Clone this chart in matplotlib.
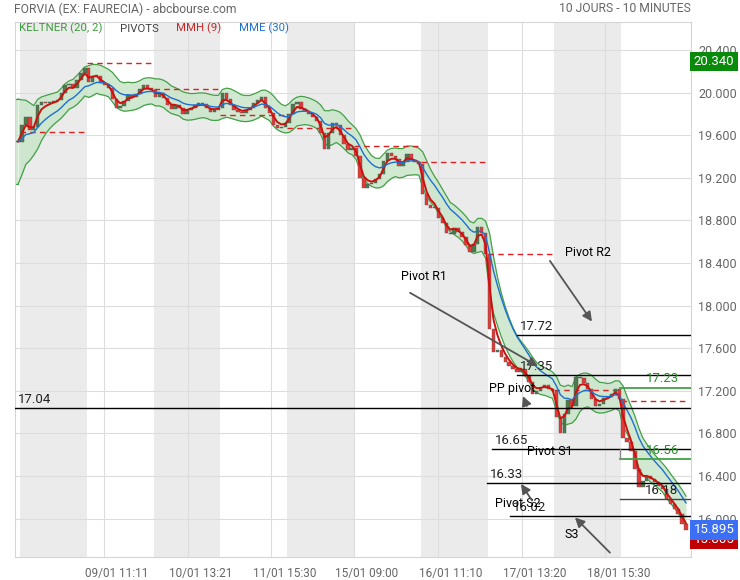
import matplotlib.pyplot as plt
import pandas as pd
from matplotlib.transforms import ScaledTranslation, blended_transform_factory

plt.rcParams["font.family"] = ["Roboto", "DejaVu Sans"]

# trading days shown (10 sessions of 09:00-17:30, 30-minute closes)
day_labels = ["08/01", "09/01", "10/01", "11/01", "12/01",
              "15/01", "16/01", "17/01", "18/01", "19/01"]
closes_0501 = [19.54]
closes_0801 = [19.70, 19.77, 19.65, 19.68, 19.88, 19.91, 19.90, 19.91, 19.92,
               19.93, 20.00, 20.07, 20.08, 20.04, 20.12, 20.18, 20.23]
closes_0901 = [20.10, 20.16, 20.16, 20.09, 20.07, 20.04, 19.94, 19.86, 19.87,
               19.92, 19.98, 19.96, 19.99, 20.03, 20.07, 20.04, 20.02]
closes_1001 = [19.96, 20.00, 19.95, 19.88, 19.85, 19.88, 19.86, 19.80, 19.84,
               19.86, 19.88, 19.90, 19.89, 19.86, 19.82, 19.84, 19.86]
closes_1101 = [20.00, 19.94, 19.88, 19.84, 19.82, 19.81, 19.84, 19.86, 19.90,
               19.93, 19.96, 19.86, 19.81, 19.70, 19.67, 19.68, 19.71]
closes_1201 = [19.80, 19.89, 19.91, 19.85, 19.83, 19.80, 19.77, 19.73, 19.62,
               19.47, 19.62, 19.71, 19.70, 19.60, 19.52, 19.46, 19.48]
closes_1501 = [19.40, 19.20, 19.10, 19.14, 19.15, 19.19, 19.24, 19.36, 19.43,
               19.40, 19.38, 19.31, 19.35, 19.42, 19.37, 19.35, 19.33]
closes_1601 = [19.05, 18.94, 18.92, 18.92, 18.82, 18.78, 18.68, 18.67, 18.73,
               18.69, 18.64, 18.57, 18.50, 18.58, 18.74, 18.68, 18.48]
closes_1701 = [17.78, 17.56, 17.58, 17.52, 17.47, 17.43, 17.40, 17.38, 17.40,
               17.34, 17.28, 17.17, 17.20, 17.23, 17.25, 17.22, 17.20]
closes_1801 = [16.95, 16.80, 16.98, 17.11, 17.06, 17.33, 17.32, 17.27, 17.22,
               17.12, 17.06, 17.08, 17.13, 17.14, 17.17, 17.22, 17.12]
closes_1901 = [16.76, 16.72, 16.63, 16.47, 16.30, 16.35, 16.40, 16.37, 16.34,
               16.31, 16.28, 16.18, 16.14, 16.09, 16.04, 15.95, 15.89]
first_range = 0.20   # opening band half-width / 2
bar_range = 0.05     # typical 10-min candle range

# daily pivot (red dashed)
daily_pivots = [19.63, 20.28, 20.03, 19.79, 19.67, 19.50, 19.35, 18.48, 17.21, 17.10]

# current pivot levels
level_values = [17.72, 17.35, 17.04, 16.65, 16.33, 16.02]
level_labels = ["17.72", "17.35", "17.04", "16.65", "16.33", "16.02"]
level_starts = [3794, 3794, -38, 3604, 3565, 3741]
green_levels = [17.23, 16.56]
gray_levels = [16.18]

tick_days = ["09/01", "10/01", "11/01", "15/01", "16/01", "17/01", "18/01"]
tick_hours = ["11:11", "13:21", "15:30", "09:00", "11:10", "13:20", "15:30"]
y_ticks = [16.0, 16.4, 16.8, 17.2, 17.6, 18.0, 18.4, 18.8, 19.2, 19.6, 20.0, 20.4]

last_high = 20.340
last_mme = 15.895
last_mmh = 15.805

DAY = 510  # minutes per session
GREEN = "#43a047"
BLUE = "#1e6fd0"
TXT = "#666666"

day_closes = [closes_0801, closes_0901, closes_1001, closes_1101, closes_1201,
              closes_1501, closes_1601, closes_1701, closes_1801, closes_1901]
times = [-15]
closes = list(closes_0501)
for k, dc in enumerate(day_closes):
    for j, c in enumerate(dc):
        times.append(k * DAY + 15 + 30 * j)
        closes.append(c)

s = pd.Series(closes)
mmh = s.ewm(span=3, adjust=False).mean()
mme = s.ewm(span=10, adjust=False).mean()
mid = s.ewm(span=7, adjust=False).mean()
tr = s.diff().abs() / 3 + bar_range
tr.iloc[0] = first_range
atr = tr.ewm(span=7, adjust=False).mean()
upper = mid + 2 * atr
lower = mid - 2 * atr

fig = plt.figure(figsize=(7.4, 5.8), dpi=100)
ax = fig.add_axes([15 / 740, 1 - 557 / 580, 676 / 740, 535 / 580])
ax.set_xlim(-38, 5123)
ax.set_ylim(15.639, 20.663)

# alternating session shading
for k in range(len(day_labels)):
    if k % 2 == 0:
        ax.axvspan(k * DAY, (k + 1) * DAY, color="#ebebeb", lw=0, zorder=0)

# grid
tick_times = []
for d, h in zip(tick_days, tick_hours):
    hh, mm = map(int, h.split(":"))
    tick_times.append(day_labels.index(d) * DAY + hh * 60 + mm - 540)
ax.set_xticks(tick_times)
ax.set_xticklabels([f"{d} {h}" for d, h in zip(tick_days, tick_hours)])
ax.set_yticks(y_ticks)
ax.set_yticklabels([f"{v:.3f}" for v in y_ticks])
ax.grid(True, color="#dddddd", lw=0.8, zorder=0.5)
ax.set_axisbelow(True)
ax.yaxis.tick_right()
ax.tick_params(length=0, labelsize=9, labelcolor=TXT, pad=5)
ax.tick_params(axis="x", labelsize=8.5, pad=7)
for lab in ax.get_xticklabels():
    lab.set_transform(lab.get_transform() + ScaledTranslation(13 / 100, 0, fig.dpi_scale_trans))
for sp in ax.spines.values():
    sp.set_color("#d5d5d5")

# keltner band
ax.fill_between(times, lower, upper, color="#c9e6c9", alpha=0.85, lw=0, zorder=1)
ax.plot(times, upper, color=GREEN, lw=0.9, zorder=1.2)
ax.plot(times, lower, color=GREEN, lw=0.9, zorder=1.2)
ax.plot([-38, -38], [lower.iloc[0], upper.iloc[0]], color=GREEN, lw=1.2, zorder=1.2)
ax.fill_between([-38, times[0]], [lower.iloc[0]] * 2, [upper.iloc[0]] * 2,
                color="#c9e6c9", alpha=0.85, lw=0, zorder=1)
ax.plot([-38, times[0]], [upper.iloc[0]] * 2, color=GREEN, lw=0.9, zorder=1.2)
ax.plot([-38, times[0]], [lower.iloc[0]] * 2, color=GREEN, lw=0.9, zorder=1.2)

# daily pivots
for k, pv in enumerate(daily_pivots):
    ax.plot([k * DAY, (k + 1) * DAY], [pv, pv], color="#e02020", lw=1,
            ls=(0, (4, 3)), zorder=1.5)

# candles (open = previous close)
opens = [closes[0]] + closes[:-1]
for t, o, c in zip(times, opens, closes):
    col = "#4d7a4d" if c >= o else "#e53935"
    ax.bar(t, max(abs(c - o), 0.008), bottom=min(o, c), width=26, color=col,
           edgecolor="#555555", lw=0.3, zorder=2)

ax.plot(times, mmh, color="#cc1010", lw=1.4, zorder=3)
ax.plot(times, mme, color=BLUE, lw=1.0, zorder=3)

# pivot levels
for v, lab, t0 in zip(level_values, level_labels, level_starts):
    ax.plot([t0, 5123], [v, v], color="black", lw=1, zorder=4)
    ax.text(t0 + 25, v + 0.02, lab, fontsize=9.5, color="#222222", ha="left",
            va="bottom", zorder=6)
for v in green_levels:
    ax.plot([4581, 5123], [v, v], color=GREEN, lw=1.3, zorder=4)
    ax.text(4780, v + 0.02, f"{v:.2f}", fontsize=9.5, color="#2e8b2e", ha="left",
            va="bottom", zorder=6)
for v in gray_levels:
    ax.plot([4581, 5123], [v, v], color="#444444", lw=1, zorder=4)
    ax.text(4770, v + 0.02, f"{v:.2f}", fontsize=9.5, color="#222222", ha="left",
            va="bottom", zorder=6)
ax.plot([4581, 4581], [level_values[3], green_levels[1]], color="#888888", lw=1, zorder=4)

# annotations
arrow = dict(arrowstyle="-|>", color="#555555", lw=1.3, mutation_scale=14,
             shrinkA=0, shrinkB=0)
ax.text(4337, 18.50, "Pivot R2", fontsize=9, ha="center", va="center", zorder=7)
ax.annotate("", xy=(4367, 17.85), xytext=(4046, 18.42), arrowprops=arrow, zorder=7)
ax.text(3084, 18.27, "Pivot R1", fontsize=9, ha="center", va="center", zorder=7)
ax.annotate("", xy=(3955, 17.43), xytext=(2978, 18.12), arrowprops=arrow, zorder=7)
ax.text(3756, 17.22, "PP pivot", fontsize=9, ha="center", va="center", zorder=7)
ax.annotate("", xy=(3840, 17.15), xytext=(3870, 17.057), arrowprops=arrow, zorder=7)
ax.text(4046, 16.63, "Pivot S1", fontsize=9, ha="center", va="center", zorder=7)
ax.text(3802, 16.14, "Pivot S2", fontsize=9, ha="center", va="center", zorder=7)
ax.annotate("", xy=(3825, 16.325), xytext=(3909, 16.17), arrowprops=arrow, zorder=7)
ax.text(4214, 15.85, "S3", fontsize=9, ha="center", va="center", zorder=7)
ax.annotate("", xy=(4237, 16.01), xytext=(4504, 15.68), arrowprops=arrow,
            zorder=7, annotation_clip=False)

# right side value boxes
tr_right = blended_transform_factory(ax.transAxes, ax.transData)
for v, col, z, dy in [(last_high, "#0a8a0a", 8, -5), (last_mmh, "#c00000", 8, 0),
                      (last_mme, "#3b6ff5", 9, 0)]:
    txt = ax.text(1.004, v, f"{v:.3f}", transform=tr_right, fontsize=9.5, color="white",
                  ha="left", va="center", clip_on=False, zorder=z,
                  bbox=dict(boxstyle="square,pad=0.25", facecolor=col, edgecolor="none"))
    txt.set_transform(tr_right + ScaledTranslation(0, dy / 100, fig.dpi_scale_trans))

# legend row
for x, lab, col in [(0.006, "KELTNER (20, 2)", "#3c9c3c"), (0.155, "PIVOTS", "#444444"),
                    (0.238, "MMH (9)", "#c62828"), (0.331, "MME (30)", "#1e6fd0")]:
    ax.text(x, 0.9875, lab, transform=ax.transAxes, fontsize=8.2, color=col,
            ha="left", va="center", zorder=8)

fig.text(14 / 740, 1 - 9 / 580, "FORVIA (EX: FAURECIA) - abcbourse.com", fontsize=8.7,
         color=TXT, ha="left", va="center")
fig.text(691 / 740, 1 - 9 / 580, "10 JOURS - 10 MINUTES", fontsize=8.7,
         color=TXT, ha="right", va="center")

fig.savefig("out.png", dpi=100)
